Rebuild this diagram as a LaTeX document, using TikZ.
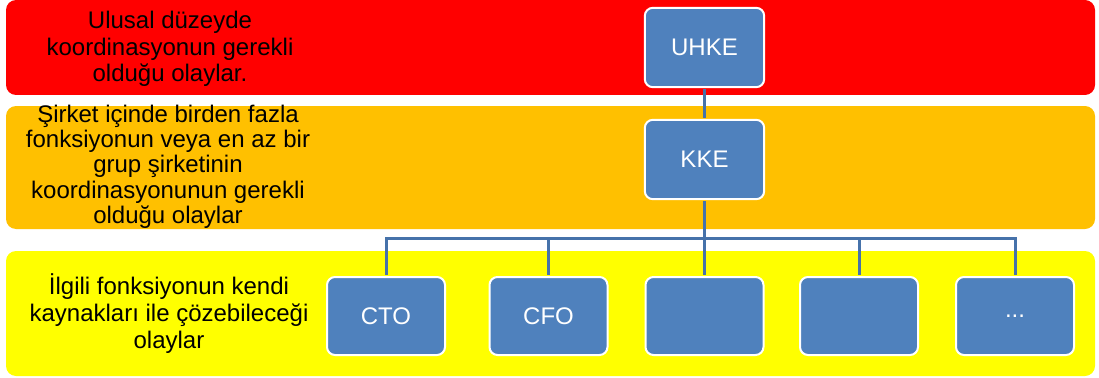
\documentclass[tikz,border=0pt]{standalone}
\usepackage{fontspec}
\setmainfont{Liberation Sans}
\definecolor{bandred}{HTML}{FF0000}
\definecolor{bandorange}{HTML}{FFC000}
\definecolor{bandyellow}{HTML}{FFFF00}
\definecolor{boxblue}{HTML}{4F81BD}
\definecolor{linkblue}{HTML}{4672AA}
\begin{document}
\begin{tikzpicture}[x=0.75pt,y=-0.75pt,
  band/.style={rounded corners=7.5pt},
  bandtext/.style={align=center, inner sep=0pt, text=black,
    font=\fontsize{18}{20}\selectfont},
  orgbox/.style={draw=white, line width=1.5pt, fill=boxblue,
    rounded corners=6pt, text=white, inner sep=0pt,
    font=\fontsize{18}{20}\selectfont},
  topbox/.style={orgbox, minimum width=89.5pt, minimum height=59.5pt},
  lowbox/.style={orgbox, minimum width=88.5pt, minimum height=58.5pt},
  link/.style={draw=linkblue, line width=2.25pt,
    shorten >=0.75pt, shorten <=0.75pt}]
\useasboundingbox (0,0) rectangle (1099,378);

% level bands
\fill[band, bandred]    (6,0)   rectangle (1095,95);
\fill[band, bandorange] (6,106) rectangle (1095,229);
\fill[band, bandyellow] (6,251) rectangle (1095,376);

% band descriptions
\node[bandtext] (t1) at (170,49)
  {Ulusal düzeyde\\koordinasyonun gerekli\\olduğu olaylar.};
\node[bandtext, font=\fontsize{18}{19}\selectfont] (t2) at (168,166.5)
  {Şirket içinde birden fazla\\fonksiyonun veya en az bir\\grup şirketinin\\koordinasyonunun gerekli\\olduğu olaylar};
\node[bandtext] (t3) at (169,313.5)
  {İlgili fonksiyonun kendi\\kaynakları ile çözebileceği\\olaylar};

% organisation boxes
\node[topbox] (uhke) at (704.5,47.5) {UHKE};
\node[topbox] (kke)  at (704.5,159.5) {KKE};
\node[lowbox] (c1) at (386,316) {CTO};
\node[lowbox] (c2) at (548.5,316) {CFO};
\node[lowbox] (c3) at (704.5,316) {};
\node[lowbox] (c4) at (859,316) {};
\node[lowbox] (c5) at (1015,316) {...};

% connectors
\coordinate (bus) at (0,238);
\draw[link] (uhke) -- (kke);
\foreach \c in {c1,c2,c3,c4,c5}
  \draw[link] (kke.south) -- (kke.south |- bus) -| (\c.north);
\end{tikzpicture}
\end{document}
